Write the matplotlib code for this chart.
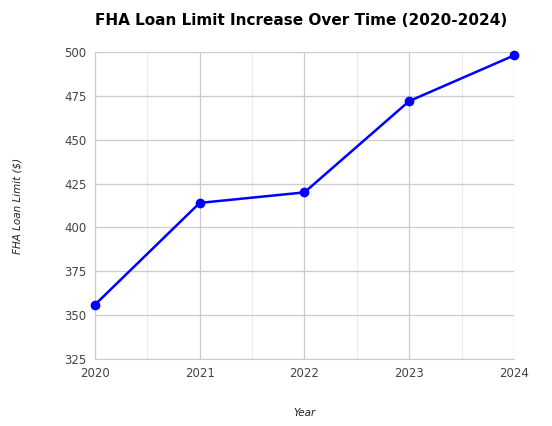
import matplotlib.pyplot as plt
import numpy as np

years = [2020, 2021, 2022, 2023, 2024]
limits = [356, 414, 420, 472, 498]

fig = plt.figure(figsize=(5.52, 4.26), dpi=100)
ax = fig.add_axes([0.172, 0.157, 0.759, 0.721])
ax.plot(years, limits, color='#0000ff', lw=1.8, marker='o', ms=6, zorder=3, clip_on=False)

ax.set_xlim(2020, 2024)
ax.set_ylim(325, 500)
ax.set_xticks(years)
ax.set_xticks(np.arange(2020.5, 2024, 1), minor=True)
ax.set_yticks(np.arange(325, 501, 25))
ax.grid(True, which='major', color='#cccccc', lw=0.9)
ax.grid(True, which='minor', axis='x', color='#ebebeb', lw=0.8)
for s in ['top', 'right']:
    ax.spines[s].set_visible(False)
ax.spines['left'].set_color('#cccccc')
ax.spines['bottom'].set_color('#cccccc')
ax.tick_params(which='both', length=0, labelsize=8.5, labelcolor='#444444', pad=6)

ax.set_xlabel('Year', fontsize=7.5, style='italic', color='#222222', labelpad=20)
ax.set_ylabel('FHA Loan Limit ($)', fontsize=7.5, style='italic', color='#222222', labelpad=30)
fig.text(0.172, 0.952, 'FHA Loan Limit Increase Over Time (2020-2024)', ha='left', va='center',
         fontsize=11, fontweight='bold')

fig.savefig('out.png', dpi=100)
